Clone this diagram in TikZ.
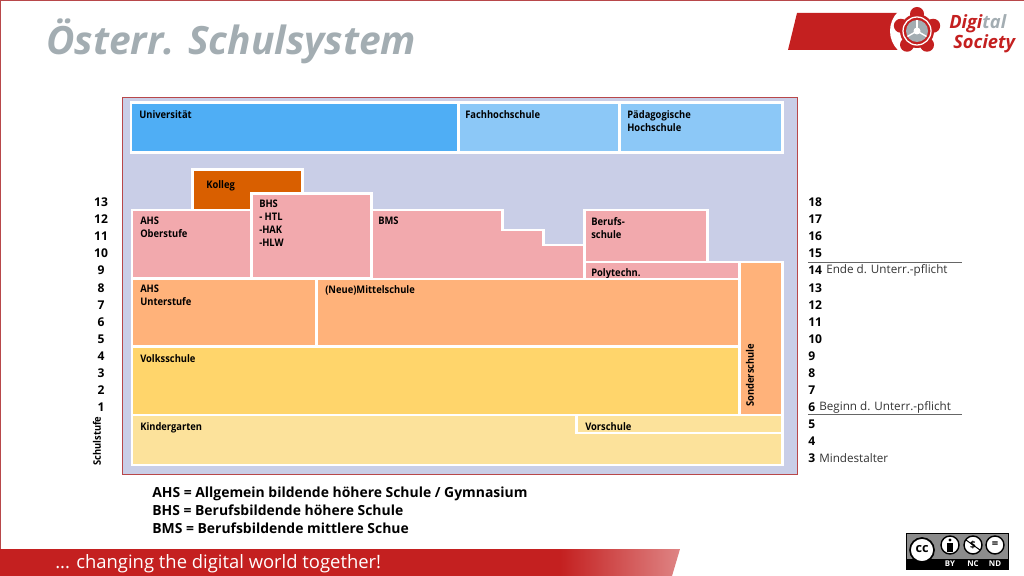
\documentclass[tikz,border=0pt]{standalone}
\usepackage{fontspec}
\setmainfont{Open Sans}
\newfontfamily\schmalfont{Open Sans}[FakeStretch=0.9]
\usepackage{xcolor}
\usetikzlibrary{positioning}
\definecolor{panelblau}{HTML}{C9CEE7}
\definecolor{randrot}{HTML}{B8474A}
\definecolor{dsrot}{HTML}{C42020}
\definecolor{dsgrau}{HTML}{A3ADB2}
\definecolor{unicol}{HTML}{4FAEF5}
\definecolor{fhcol}{HTML}{8CC8F7}
\definecolor{kollegcol}{HTML}{D95F00}
\definecolor{rosacol}{HTML}{F2A9AD}
\definecolor{orangecol}{HTML}{FFB27A}
\definecolor{gelbcol}{HTML}{FFD56B}
\definecolor{hellgelbcol}{HTML}{FCE29B}
\tikzset{
  stufe/.style = {draw=white, line width=2.13pt, miter limit=10},
  schrift/.style = {anchor=north west, inner sep=0pt, align=left, text=black,
    font=\schmalfont\fontsize{7.4pt}{9.25pt}\selectfont\bfseries},
  zahl/.style = {inner sep=0pt, text=black,
    font=\fontsize{8.6pt}{10pt}\selectfont\bfseries},
  rechts/.style = {anchor=west, inner sep=0pt, text=black!80,
    font=\fontsize{8.3pt}{10pt}\selectfont},
  legende/.style = {anchor=base west, inner sep=0pt, text=black,
    font=\fontsize{9.9pt}{12pt}\selectfont\bfseries},
  badge/.style = {inner sep=0pt, text=white,
    font=\fontsize{5.6pt}{6pt}\selectfont\bfseries}
}

\begin{document}
\begin{tikzpicture}[x=0.025cm,y=-0.025cm]
\useasboundingbox (0,0) rectangle (1024,576);
\fill[white] (0,0) rectangle (1024,576);
% Rand der Folie
\draw[randrot,line width=0.9pt] (0,549) -- (0,0) -- (1024,0);
\node [anchor=west, inner sep=0pt, text=dsgrau,
  font=\fontsize{27.7pt}{32pt}\selectfont\bfseries\itshape] (titel) at (46,41) {Österr. Schulsystem};

% Logo
\fill[dsrot] (797,13) -- (905,13) -- (905,50) -- (788,50) -- cycle;
\fill[white] (917,31) circle (27);
\fill[dsrot] (917,31) circle (17);
\foreach \w in {90,162,234,306,18}
  \fill[dsrot] (917,31) ++(\w:-17) circle (7);
\draw[white,line width=0.9pt] (917,31) circle (14);
\fill[dsgrau] (917,31) circle (11);
\foreach \w in {90,210,330}
  \draw[white,line width=1pt] (917,31) -- ++(\w:-11);
\fill[white] (917,31) circle (3.5);
\node [anchor=west, inner sep=0pt, font=\fontsize{13pt}{14pt}\selectfont\bfseries\itshape]
  (digital) at (949,24) {\textcolor{dsrot}{Digi}\textcolor{dsgrau}{tal}};
\node [anchor=west, inner sep=0pt, text=dsrot, font=\fontsize{13pt}{14pt}\selectfont\bfseries\itshape]
  (society) at (953,44) {Society};

% Hintergrund
\draw[randrot,fill=panelblau,line width=0.6pt] (122,97) rectangle (797,474);

% Hochschulen
\draw[stufe,fill=unicol] (131,103) rectangle (458,153);
\node [schrift] (uni) at (139,110) {Universität};
\draw[stufe,fill=fhcol] (458,103) rectangle (619,153);
\node [schrift] (fh) at (465,110) {Fachhochschule};
\draw[stufe,fill=fhcol] (619,103) rectangle (782,153);
\node [schrift] (paed) at (627,110) {Pädagogische\\Hochschule};

% Sekundarstufe 2
\draw[stufe,fill=kollegcol] (192,170) rectangle (302,214);
\node [schrift] (kolleg) at (206,180) {Kolleg};
\draw[stufe,fill=rosacol] (132,210) rectangle (251,278);
\node [schrift] (ahso) at (140,217) {AHS\\Oberstufe};
\draw[stufe,fill=rosacol] (371,210) -- (502,210) -- (502,230) -- (543,230) -- (543,245)
  -- (584,245) -- (584,279) -- (371,279) -- cycle;
\node [schrift] (bms) at (378,217) {BMS};
\draw[stufe,fill=rosacol] (584,210) rectangle (707,262);
\node [schrift] (berufs) at (591,217) {Berufs-\\schule};
\draw[stufe,fill=rosacol] (584,262) rectangle (739,279);
\node [schrift] (poly) at (591,268) {Polytechn.};
\draw[stufe,fill=rosacol] (251,194) rectangle (371,278);
\node [schrift] (bhs) at (259,200) {BHS\\- HTL\\-HAK\\-HLW};

% Sekundarstufe 1
\draw[stufe,fill=orangecol] (132,279) rectangle (316.5,346);
\node [schrift] (ahsu) at (140,285) {AHS\\Unterstufe};
\draw[stufe,fill=orangecol] (316.5,279) rectangle (739,346);
\node [schrift] (nms) at (325,285) {(Neue)Mittelschule};

% Volksschule und Sonderschule
\draw[stufe,fill=gelbcol] (132,347) rectangle (739,415);
\node [schrift] (volks) at (140,354) {Volksschule};
\draw[stufe,fill=orangecol] (739,262) rectangle (782,415);
\node [schrift, anchor=west, rotate=90] (sonder) at (750,407) {Sonderschule};

% Vorschulbereich
\draw[stufe,fill=hellgelbcol] (132,415) rectangle (782,465);
\node [schrift] (kinder) at (140,422) {Kindergarten};
\draw[stufe,fill=hellgelbcol] (576,415) rectangle (782,433);
\node [schrift] (vor) at (585,422) {Vorschule};

% Schulstufen
\foreach \s/\y in {13/202,12/219,11/236,10/253,9/270,8/288,7/305,6/322,5/339,4/356,3/373,2/390,1/407}
  \node [zahl] (stufe\s) at (101,\y) {\s};
\node [zahl, font=\schmalfont\fontsize{7.4pt}{9pt}\selectfont\bfseries, anchor=west, rotate=90] (schulstufe) at (97,466) {Schulstufe};

% Alter
\foreach \a/\y in {18/202,17/219,16/236,15/253,14/270,13/288,12/305,11/322,10/339,9/356,8/373,7/390,6/407,5/424,4/441,3/458}
  \node [zahl, anchor=west] (alter\a) at (808,\y) {\a};
\node [rechts] (ende) at (826,270) {Ende d. Unterr.-pflicht};
\node [rechts] (beginn) at (819,407) {Beginn d. Unterr.-pflicht};
\node [rechts] (mindest) at (819,458) {Mindestalter};
\coordinate (ende1) at (808,262);
\coordinate (ende2) at (962,262);
\coordinate (beginn1) at (808,414);
\coordinate (beginn2) at (962,414);
\draw[black!60,line width=0.7pt] (ende1) -- (ende2);
\draw[black!60,line width=0.7pt] (beginn1) -- (beginn2);

% Legende
\node [legende] (leg1) at (152,497) {AHS = Allgemein bildende höhere Schule / Gymnasium};
\node [legende] (leg2) at (152,515) {BHS = Berufsbildende höhere Schule};
\node [legende] (leg3) at (152,533) {BMS = Berufsbildende mittlere Schue};

% Fussleiste
\fill[dsrot] (0,549) -- (560,549) -- (560,576) -- (0,576) -- cycle;
\shade[left color=dsrot,right color=dsrot!55!white] (560,549) -- (680,549) -- (672,576) -- (560,576) -- cycle;
\node [anchor=west, inner sep=0pt, text=white, font=\fontsize{13.1pt}{15pt}\selectfont]
  (motto) at (55,564) {... changing the digital world together!};

% CC-Plakette
\fill[black!45] (906,533) rectangle (1008,569);
\fill[black] (906,559) rectangle (1008,569);
\draw[black,line width=0.5pt] (906,533) rectangle (1008,569);
\draw[black,fill=white,line width=1.2pt] (922,550) circle (12);
\node [inner sep=0pt, font=\fontsize{9pt}{10pt}\selectfont\bfseries] (cc) at (922,549.5) {cc};
\draw[black,fill=white,line width=1pt] (950,545) circle (9);
\draw[black,fill=white,line width=1pt] (973,545) circle (9);
\draw[black,fill=white,line width=1pt] (995,545) circle (9);
\fill[black] (950,540) circle (1.7);
\fill[black] (947,542.5) rectangle (953,552);
\node [inner sep=0pt, font=\fontsize{7pt}{8pt}\selectfont\bfseries] (nc) at (973,545) {\$};
\draw[black,line width=0.7pt] (966,540) -- (980,550);
\node [inner sep=0pt, font=\fontsize{8pt}{9pt}\selectfont\bfseries] (nd) at (995,544.5) {=};
\node [badge] (by) at (950,564) {BY};
\node [badge] (ncl) at (973,564) {NC};
\node [badge] (ndl) at (995,564) {ND};
\end{tikzpicture}
\end{document}
